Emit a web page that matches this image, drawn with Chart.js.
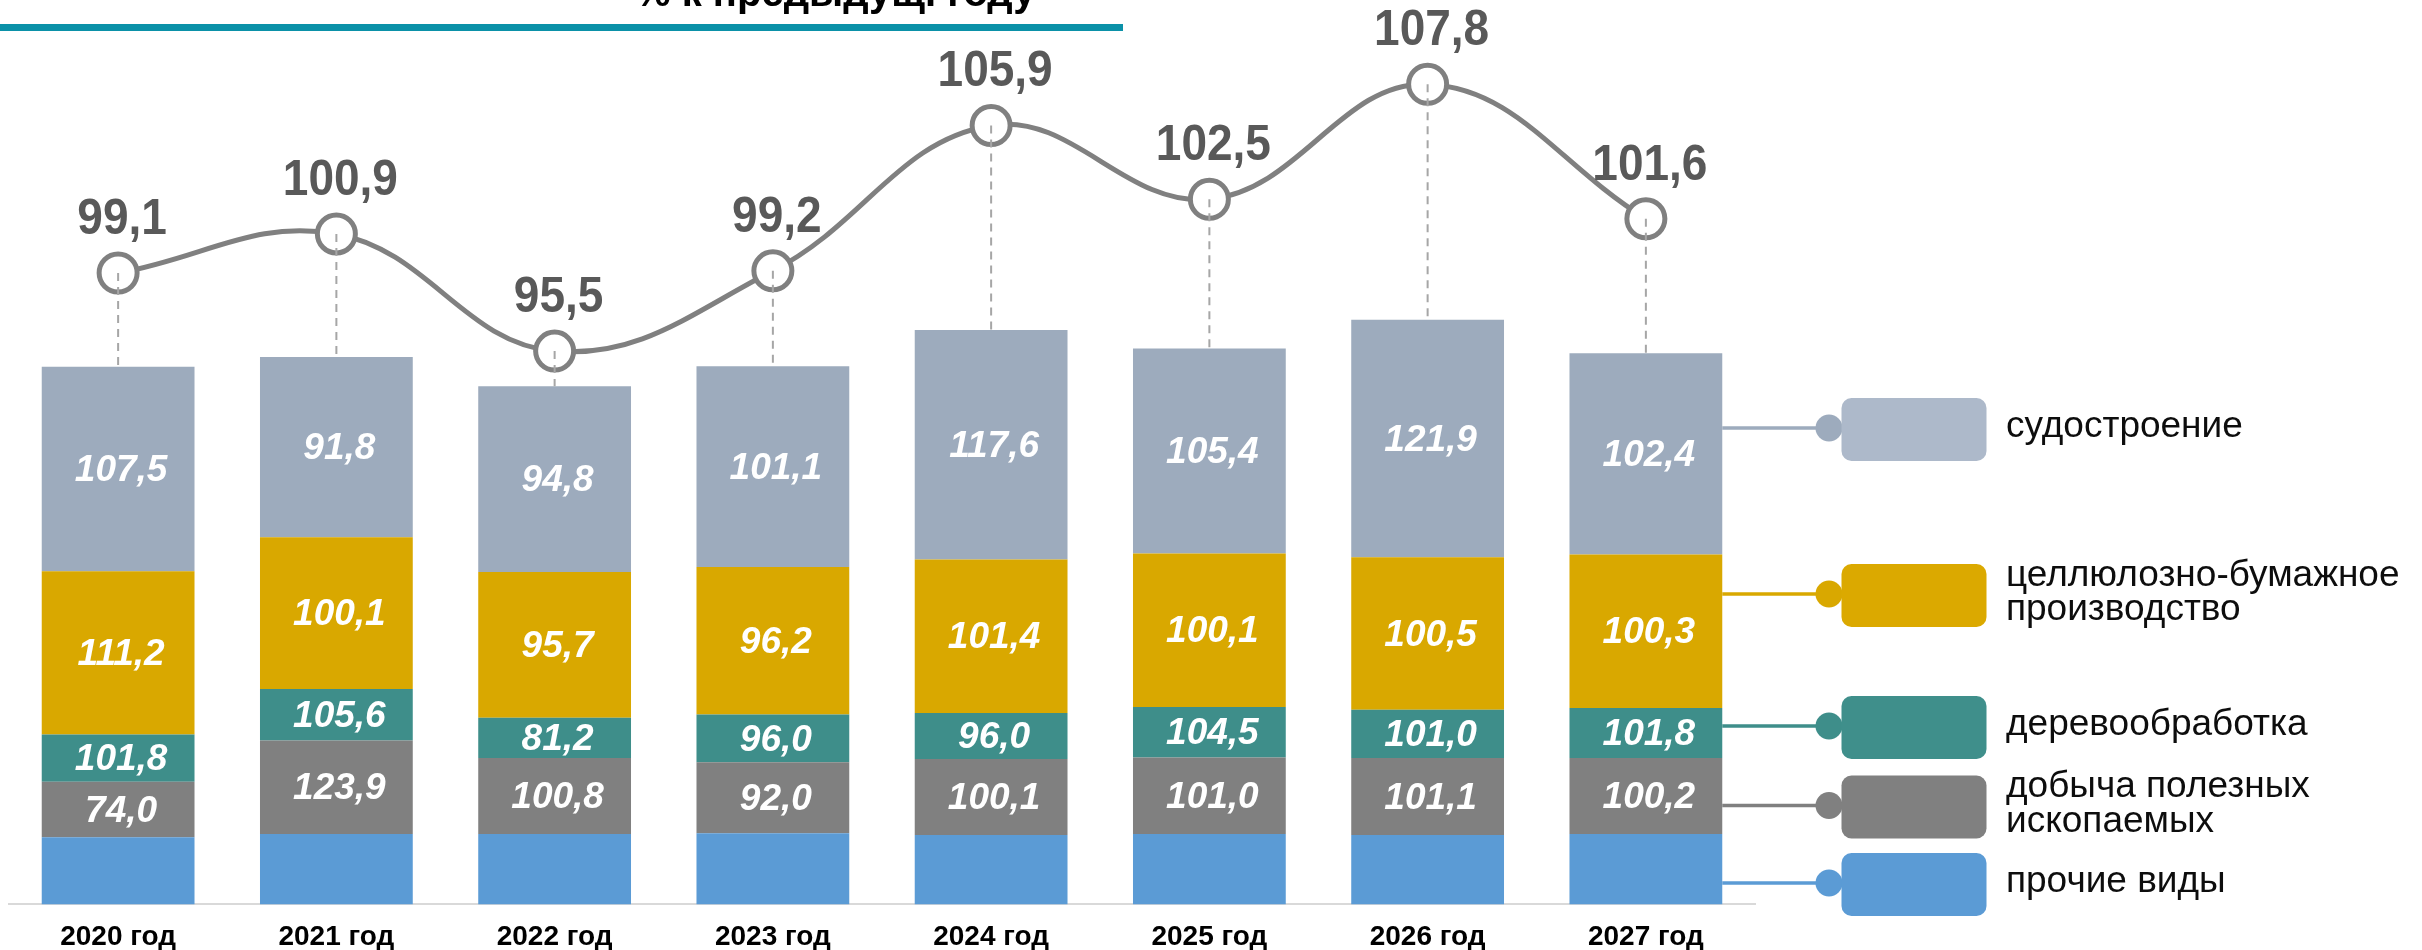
<!DOCTYPE html>
<html>
<head>
<meta charset="utf-8">
<script src="https://cdn.jsdelivr.net/npm/chart.js@4.4.1/dist/chart.umd.min.js"></script>
<style>
  html, body { margin: 0; padding: 0; background: #ffffff; overflow: hidden; }
  #wrap { position: relative; width: 2422px; height: 950px; }
  canvas { display: block; }
</style>
</head>
<body>
<div id="wrap"><canvas id="c" width="2422" height="950"></canvas></div>
<script>
// ---------- DATA ----------
const categories = ['2020 год', '2021 год', '2022 год', '2023 год', '2024 год', '2025 год', '2026 год', '2027 год'];

// Overall index, % to previous year (line)
const totalIndex = [99.1, 100.9, 95.5, 99.2, 105.9, 102.5, 107.8, 101.6];

// Contributions of each activity to the overall index (stacked bar segment heights)
const otherContribution    = [12.4, 13.0, 13.0, 13.1, 12.8, 13.0, 12.8, 13.0];
const miningContribution   = [10.2, 17.2, 14.0, 13.1, 14.0, 14.1, 14.2, 14.0];
const woodContribution     = [8.7, 9.5, 7.4, 8.8, 8.5, 9.3, 8.9, 9.2];
const pulpContribution     = [30.1, 28.0, 26.9, 27.2, 28.3, 28.3, 28.1, 28.3];
const shipContribution     = [37.7, 33.2, 34.2, 37.0, 42.3, 37.8, 43.8, 37.1];

// Indices by activity, % to previous year (segment labels)
const miningIndex = [74.0, 123.9, 100.8, 92.0, 100.1, 101.0, 101.1, 100.2];
const woodIndex   = [101.8, 105.6, 81.2, 96.0, 96.0, 104.5, 101.0, 101.8];
const pulpIndex   = [111.2, 100.1, 95.7, 96.2, 101.4, 100.1, 100.5, 100.3];
const shipIndex   = [107.5, 91.8, 94.8, 101.1, 117.6, 105.4, 121.9, 102.4];

const seriesNames = ['прочие виды', 'добыча полезных ископаемых', 'деревообработка', 'целлюлозно-бумажное производство', 'судостроение'];
const titleTail = '% к предыдущ. году';

// ---------- STYLE ----------
const colors = {
  other:  '#5b9bd5',
  mining: '#808080',
  wood:   '#3e8e8a',
  pulp:   '#d9a800',
  ship:   '#9dabbd'
};
const legendBoxColors = ['#5b9bd5', '#808080', '#3f8f8b', '#dba900', '#adb9ca'];
const fmt = v => v.toFixed(1).replace('.', ',');

// legend layout (drawn by plugin), bottom -> top, matching dataset order
const legendLayout = [
  { cy: 883,   lines: ['прочие виды'] },
  { cy: 805.5, lines: ['добыча полезных', 'ископаемых'] },
  { cy: 726,   lines: ['деревообработка'] },
  { cy: 594,   lines: ['целлюлозно-бумажное', 'производство'] },
  { cy: 428,   lines: ['судостроение'] }
];

const FONT = '"Liberation Sans", Arial, sans-serif';

const decorPlugin = {
  id: 'decor',
  beforeDraw(chart) {
    const ctx = chart.ctx;
    ctx.save();
    ctx.fillStyle = '#0b91a8';
    ctx.fillRect(0, 24, 1123, 7);
    ctx.fillStyle = '#000000';
    ctx.font = 'bold 40px ' + FONT;
    ctx.textAlign = 'left';
    ctx.textBaseline = 'alphabetic';
    ctx.fillText(titleTail, 635, 6);
    ctx.restore();
  },
  afterDatasetsDraw(chart) {
    const ctx = chart.ctx;
    const lineMeta = chart.getDatasetMeta(0);
    const topMeta = chart.getDatasetMeta(5);
    ctx.save();
    // dashed drop lines from points to bar tops
    ctx.strokeStyle = '#a6a6a6';
    ctx.lineWidth = 2;
    ctx.setLineDash([8, 6]);
    lineMeta.data.forEach((pt, i) => {
      const barTop = topMeta.data[i].y;
      ctx.beginPath();
      ctx.moveTo(pt.x, pt.y);
      ctx.lineTo(pt.x, barTop);
      ctx.stroke();
    });
    ctx.setLineDash([]);

    // segment labels
    ctx.fillStyle = '#ffffff';
    ctx.font = 'italic bold 37px ' + FONT;
    ctx.textAlign = 'center';
    ctx.textBaseline = 'middle';
    for (let d = 2; d <= 5; d++) {
      const meta = chart.getDatasetMeta(d);
      const labels = chart.data.datasets[d].labelValues;
      meta.data.forEach((bar, i) => {
        const cy = (bar.y + bar.base) / 2;
        ctx.fillText(fmt(labels[i]), bar.x + 3, cy + 2);
      });
    }

    // line labels (slightly condensed bold)
    ctx.fillStyle = '#595959';
    ctx.font = 'bold 50px ' + FONT;
    ctx.textBaseline = 'alphabetic';
    lineMeta.data.forEach((pt, i) => {
      ctx.save();
      ctx.translate(pt.x + 4, pt.y - 39);
      ctx.scale(0.92, 1);
      ctx.fillText(fmt(totalIndex[i]), 0, 0);
      ctx.restore();
    });
    ctx.restore();
  },
  afterDraw(chart) {
    const ctx = chart.ctx;
    const lastIdx = categories.length - 1;
    ctx.save();
    legendLayout.forEach((row, k) => {
      const ds = chart.data.datasets[k + 1];
      const bar = chart.getDatasetMeta(k + 1).data[lastIdx];
      const x0 = bar.x + bar.width / 2;
      const dotX = 1829;
      ctx.strokeStyle = ds.backgroundColor;
      ctx.lineWidth = 3.5;
      ctx.beginPath();
      ctx.moveTo(x0, row.cy);
      ctx.lineTo(dotX, row.cy);
      ctx.stroke();
      ctx.fillStyle = ds.backgroundColor;
      ctx.beginPath();
      ctx.arc(dotX, row.cy, 13.5, 0, Math.PI * 2);
      ctx.fill();
      ctx.fillStyle = legendBoxColors[k];
      ctx.beginPath();
      ctx.roundRect(1841.5, row.cy + 1.5 - 31.5, 145, 63, 10);
      ctx.fill();
      ctx.fillStyle = '#0d0d0d';
      ctx.font = '37px ' + FONT;
      ctx.textAlign = 'left';
      ctx.textBaseline = 'alphabetic';
      const n = row.lines.length;
      row.lines.forEach((t, j) => {
        ctx.fillText(t, 2006, row.cy + 9 + (j - (n - 1) / 2) * 34.5);
      });
    });
    ctx.restore();
  }
};

const barCommon = {
  type: 'bar',
  stack: 'total',
  yAxisID: 'y',
  barPercentage: 0.7,
  categoryPercentage: 1.0,
  borderWidth: 0,
  order: 2
};

new Chart(document.getElementById('c'), {
  data: {
    labels: categories,
    datasets: [
      {
        type: 'line',
        label: 'Индекс производства',
        data: totalIndex,
        yAxisID: 'y2',
        borderColor: '#808080',
        borderWidth: 5,
        tension: 0.4,
        pointRadius: 19,
        pointBorderWidth: 5,
        pointBackgroundColor: '#ffffff',
        pointBorderColor: '#808080',
        clip: false,
        order: 1
      },
      Object.assign({}, barCommon, { label: seriesNames[0], data: otherContribution,  backgroundColor: colors.other }),
      Object.assign({}, barCommon, { label: seriesNames[1], data: miningContribution, backgroundColor: colors.mining, labelValues: miningIndex }),
      Object.assign({}, barCommon, { label: seriesNames[2], data: woodContribution,   backgroundColor: colors.wood,   labelValues: woodIndex }),
      Object.assign({}, barCommon, { label: seriesNames[3], data: pulpContribution,   backgroundColor: colors.pulp,   labelValues: pulpIndex }),
      Object.assign({}, barCommon, { label: seriesNames[4], data: shipContribution,   backgroundColor: colors.ship,   labelValues: shipIndex })
    ]
  },
  options: {
    responsive: false,
    devicePixelRatio: 1,
    animation: false,
    layout: { autoPadding: false, padding: { left: 9, right: 667, top: 36.5, bottom: -20 } },
    plugins: {
      legend: { display: false },
      tooltip: { enabled: false },
      title: { display: false }
    },
    scales: {
      x: {
        stacked: true,
        grid: { display: false, drawTicks: false },
        border: { display: true, color: '#d9d9d9', width: 2 },
        ticks: {
          color: '#000000',
          font: { family: FONT, size: 28, weight: 'bold', lineHeight: 1.2 },
          padding: 16
        }
      },
      y: {
        display: false,
        stacked: true,
        min: 0,
        max: 160
      },
      y2: {
        display: false,
        position: 'right',
        min: 70,
        max: 110
      }
    }
  },
  plugins: [decorPlugin]
});
</script>
</body>
</html>
